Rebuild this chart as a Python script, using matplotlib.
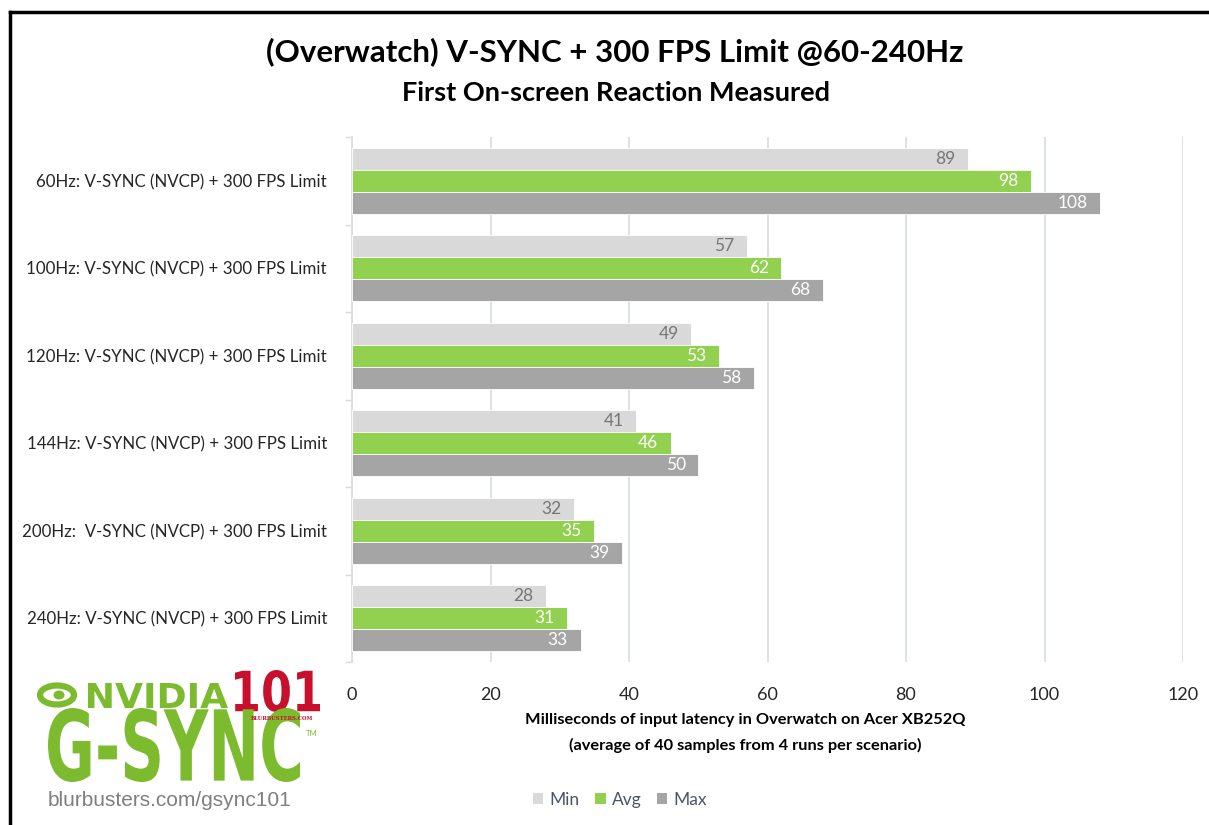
import matplotlib
matplotlib.use("Agg")
import matplotlib.pyplot as plt
from matplotlib.lines import Line2D
from matplotlib.patches import Patch, Ellipse, PathPatch
from matplotlib.textpath import TextPath
from matplotlib.font_manager import FontProperties
from matplotlib.transforms import Affine2D
import numpy as np

categories = [
    "60Hz: V-SYNC (NVCP) + 300 FPS Limit",
    "100Hz: V-SYNC (NVCP) + 300 FPS Limit",
    "120Hz: V-SYNC (NVCP) + 300 FPS Limit",
    "144Hz: V-SYNC (NVCP) + 300 FPS Limit",
    "200Hz:  V-SYNC (NVCP) + 300 FPS Limit",
    "240Hz: V-SYNC (NVCP) + 300 FPS Limit",
]
min_vals = [89, 57, 49, 41, 32, 28]
avg_vals = [98, 62, 53, 46, 35, 31]
max_vals = [108, 68, 58, 50, 39, 33]
series_names = ["Min", "Avg", "Max"]
colors = ["#D9D9D9", "#92D050", "#A5A5A5"]
label_colors = ["#767676", "#FFFFFF", "#FFFFFF"]
x_ticks = [0, 20, 40, 60, 80, 100, 120]

plt.rcParams["font.family"] = ["Lato", "DejaVu Sans"]

W, H = 1209, 825
fig = plt.figure(figsize=(W / 100, H / 100), dpi=100)
ax = fig.add_axes([352 / W, 1 - 662 / H, (1183 - 352) / W, (662 - 137) / H])

y = np.arange(len(categories))
bh = 0.25
grid_c = "#D9DEE6"
for k, (vals, c, lc) in enumerate(zip([min_vals, avg_vals, max_vals], colors, label_colors)):
    pos = y + (k - 1) * bh
    bars = ax.barh(pos, vals, height=bh, color=c, edgecolor="white", linewidth=0.6, zorder=3)
    for b, v in zip(bars, vals):
        ax.annotate(f"{v}", xy=(b.get_width(), b.get_y() + b.get_height() / 2),
                    xytext=(-9, 0), textcoords="offset points", ha="right", va="center",
                    color=lc, fontsize=12.5, zorder=4)

ax.set_xlim(0, 120)
ax.set_ylim(len(categories) - 0.5, -0.5)
ax.set_xticks(x_ticks)
ax.set_xticklabels([str(t) for t in x_ticks], fontsize=13, color="#262626")
ax.set_yticks(y)
ax.set_yticklabels(categories, fontsize=12.2, color="#262626")
ax.tick_params(axis="x", length=0, pad=18)
ax.tick_params(axis="y", length=0, pad=18)
ax.set_yticks(np.arange(-0.5, len(categories), 1.0), minor=True)
ax.tick_params(axis="y", which="minor", length=5, color=grid_c, width=1)
ax.grid(axis="x", color=grid_c, linewidth=1.3, zorder=0)
for s in ["top", "right", "bottom"]:
    ax.spines[s].set_visible(False)
ax.spines["left"].set_color(grid_c)
ax.spines["left"].set_linewidth(1.3)

# Titles
fig.text(615 / W, 1 - 52 / H, "(Overwatch) V-SYNC + 300 FPS Limit @60-240Hz",
         ha="center", va="center", fontsize=22.5, fontweight="bold", color="#000000")
fig.text(616 / W, 1 - 93 / H, "First On-screen Reaction Measured",
         ha="center", va="center", fontsize=19.5, fontweight="bold", color="#000000")

# Axis title
fig.text(745 / W, 1 - 720 / H, "Milliseconds of input latency in Overwatch on Acer XB252Q",
         ha="center", va="center", fontsize=11.8, fontweight="bold", color="#000000")
fig.text(745 / W, 1 - 745 / H, "(average of 40 samples from 4 runs per scenario)",
         ha="center", va="center", fontsize=11.8, fontweight="bold", color="#000000")

# Legend
handles = [Patch(facecolor=c, edgecolor="none") for c in colors]
fig.legend(handles, series_names, loc="center", bbox_to_anchor=(620 / W, 1 - 800 / H),
           ncol=3, frameon=False, fontsize=12.5, handlelength=0.6, handleheight=0.6,
           handletextpad=0.35, columnspacing=0.9, labelcolor="#4A5568")


# Logo approximation: text paths fitted into pixel boxes
def fit_text(s, x0, x1, ytop, ybot, color, family="DejaVu Sans", weight="bold"):
    tp = TextPath((0, 0), s, size=1, prop=FontProperties(family=family, weight=weight))
    ext = tp.get_extents()
    sx = ((x1 - x0) / W) / ext.width
    sy = ((ybot - ytop) / H) / ext.height
    tr = Affine2D().translate(-ext.x0, -ext.y0).scale(sx, sy).translate(x0 / W, 1 - ybot / H)
    patch = PathPatch(tr.transform_path(tp), facecolor=color, edgecolor="none",
                      transform=fig.transFigure)
    fig.patches.append(patch)


logo_green = "#7DBB2E"
fig.patches.append(Ellipse((57 / W, 1 - 695 / H), 34 / W, 19 / H, transform=fig.transFigure,
                           facecolor="none", edgecolor=logo_green, linewidth=4.5))
fig.patches.append(Ellipse((59 / W, 1 - 695 / H), 11 / W, 9 / H, transform=fig.transFigure,
                           facecolor=logo_green, edgecolor="none"))
fit_text("NVIDIA", 88, 228, 683, 708, logo_green)
fit_text("101", 235, 320, 670, 712, "#C8102E")
fig.text(282 / W, 1 - 719 / H, "BLURBUSTERS.COM", ha="center", va="center", fontsize=3.8,
         fontweight="bold", color="#C8102E", family=["DejaVu Serif"])
fit_text("G-SYNC", 48, 300, 708, 782, logo_green)
fig.text(312 / W, 1 - 733 / H, "TM", ha="center", va="center", fontsize=5.5, color=logo_green)
fig.text(48 / W, 1 - 800 / H, "blurbusters.com/gsync101", ha="left", va="center",
         fontsize=15, color="#7F7F7F", family=["Liberation Sans"])

# Frame border
fig.add_artist(Line2D([10 / W, 10 / W], [0, 1 - 12 / H], transform=fig.transFigure,
                      color="black", linewidth=2.5))
fig.add_artist(Line2D([10 / W, 1], [1 - 12 / H, 1 - 12 / H], transform=fig.transFigure,
                      color="black", linewidth=2.5))

fig.savefig("out.png", dpi=100, facecolor="white")
